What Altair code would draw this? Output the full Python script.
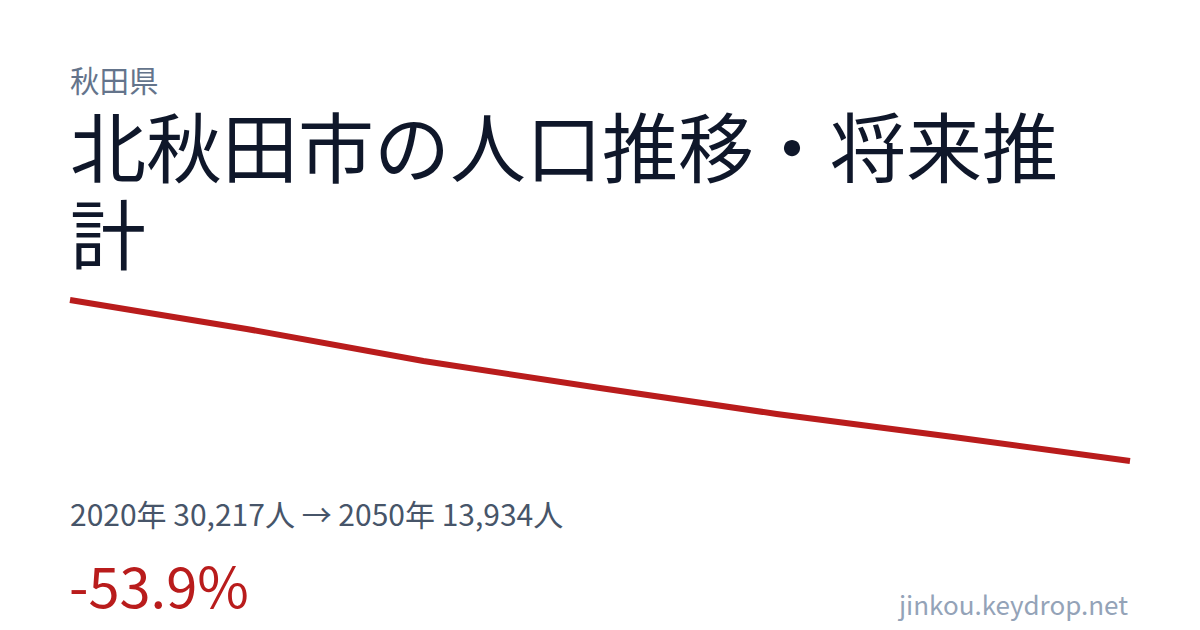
import altair as alt
import pandas as pd

# Data
years = [2020, 2025, 2030, 2035, 2040, 2045, 2050]
population = [30217, 27290, 24050, 21310, 18690, 16360, 13934]

prefecture = "秋田県"
title_lines = ["北秋田市の人口推移・将来推", "計"]
summary = "2020年 30,217人 → 2050年 13,934人"
change = "-53.9%"
site = "jinkou.keydrop.net"

FONT = "Noto Sans CJK JP"

df = pd.DataFrame({"year": years, "pop": population})

line = alt.Chart(df).mark_line(color="#b91c1c", strokeWidth=6, strokeCap="butt").encode(
    x=alt.X("year:Q", axis=None, scale=alt.Scale(domain=[2020, 2050], range=[62, 1122], nice=False, zero=False)),
    y=alt.Y("pop:Q", axis=None, scale=alt.Scale(domain=[13934, 30217], range=[453, 292], nice=False, zero=False)),
)

one = pd.DataFrame({"k": [0]})

def txt(text, x, y, size, color, align="left"):
    return alt.Chart(one).mark_text(
        font=FONT, fontSize=size, color=color, align=align, baseline="alphabetic",
        lineHeight=87,
    ).encode(x=alt.value(x), y=alt.value(y), text=alt.value(text))

pref = txt(prefecture, 62, 84, 29.5, "#64748b")
title = txt(title_lines, 62, 169, 76, "#0f172a")
summ = txt(summary, 62, 518, 30, "#475569")
chg = txt(change, 61, 600, 56, "#b91c1c")
st = txt(site, 1120, 607, 26, "#94a3b8", align="right")

chart = alt.layer(line, pref, title, summ, chg, st).properties(
    width=1184, height=614, autosize=alt.AutoSizeParams(type="none"), padding=0,
    background="white",
).configure_view(stroke=None)

chart.save("out.html", embed_options={"renderer": "svg", "actions": False})
